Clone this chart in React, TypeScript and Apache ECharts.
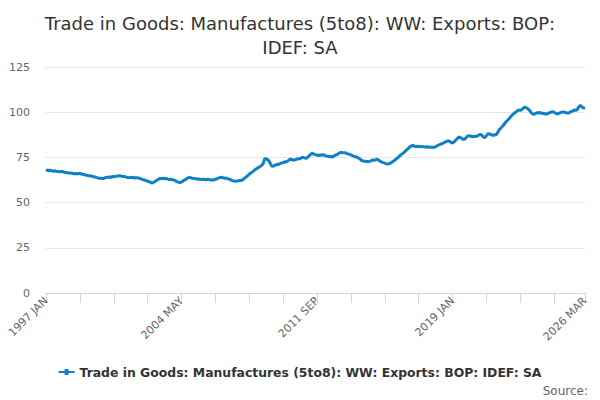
import { useEffect, useRef } from "react"
import * as echarts from "echarts"

const MONTHS = ["JAN", "FEB", "MAR", "APR", "MAY", "JUN", "JUL", "AUG", "SEP", "OCT", "NOV", "DEC"]
const FIRST_YEAR = 1997
const LAST_YEAR = 2026
const LAST_MONTH = 3

const seriesName = "Trade in Goods: Manufactures (5to8): WW: Exports: BOP: IDEF: SA"
const titleText = "Trade in Goods: Manufactures (5to8): WW: Exports: BOP:\nIDEF: SA"

// monthly values, one row per year
const v1997 = [67.6, 68.0, 67.8, 67.9, 67.5, 67.4, 67.6, 67.2, 67.2, 67.0, 67.3, 67.1]
const v1998 = [66.8, 66.6, 66.5, 66.3, 66.4, 66.2, 66.0, 66.1, 65.9, 66.0, 66.2, 65.8]
const v1999 = [65.6, 65.4, 65.2, 65.0, 64.9, 64.7, 64.5, 64.3, 64.1, 63.8, 63.6, 63.4]
const v2000 = [63.5, 63.2, 63.6, 63.9, 64.0, 64.2, 64.0, 64.4, 64.3, 64.6, 64.5, 64.8]
const v2001 = [64.9, 64.6, 64.4, 64.5, 64.1, 63.9, 63.8, 64.0, 63.7, 63.9, 63.6, 63.8]
const v2002 = [63.6, 63.4, 63.0, 62.7, 62.5, 62.2, 61.9, 61.6, 61.2, 60.8, 61.3, 61.7]
const v2003 = [62.4, 62.9, 63.4, 63.2, 63.5, 63.1, 63.4, 63.0, 62.8, 63.0, 62.6, 62.5]
const v2004 = [62.1, 61.6, 61.3, 61.0, 61.4, 62.0, 62.5, 63.0, 63.6, 64.0, 63.7, 63.5]
const v2005 = [63.4, 63.2, 63.0, 63.1, 62.9, 62.7, 63.0, 62.8, 62.6, 62.9, 62.7, 62.5]
const v2006 = [62.6, 62.5, 62.9, 63.2, 63.6, 63.8, 64.0, 63.7, 63.5, 63.6, 63.2, 63.0]
const v2007 = [62.6, 62.2, 61.9, 61.8, 62.0, 62.1, 62.3, 62.2, 62.8, 63.5, 64.2, 64.9]
const v2008 = [65.8, 66.4, 67.0, 67.7, 68.4, 68.9, 69.5, 70.0, 70.6, 71.5, 74.3, 74.2]
const v2009 = [73.7, 72.8, 71.0, 70.0, 70.3, 70.8, 71.2, 71.0, 71.6, 71.9, 72.1, 72.6]
const v2010 = [72.5, 73.0, 73.8, 74.0, 73.6, 73.5, 73.7, 74.0, 74.3, 74.2, 74.9, 75.0]
const v2011 = [74.7, 74.5, 75.2, 76.0, 76.9, 77.2, 76.8, 76.5, 76.3, 76.0, 76.4, 76.2]
const v2012 = [76.5, 76.1, 75.8, 75.6, 75.4, 75.5, 75.2, 75.8, 76.3, 76.5, 77.2, 77.6]
const v2013 = [77.8, 77.5, 77.6, 77.3, 76.9, 76.8, 76.4, 76.0, 75.6, 75.4, 75.1, 74.6]
const v2014 = [74.0, 73.3, 73.0, 72.8, 72.9, 72.6, 72.8, 73.1, 73.6, 73.4, 73.7, 73.9]
const v2015 = [73.5, 72.9, 72.4, 72.1, 71.8, 71.5, 71.3, 71.6, 72.0, 72.6, 73.2, 73.8]
const v2016 = [74.6, 75.3, 76.1, 76.8, 77.4, 78.2, 79.0, 79.8, 80.7, 81.2, 81.6, 81.3]
const v2017 = [81.0, 81.2, 80.9, 81.1, 80.8, 81.0, 80.7, 80.9, 80.6, 80.8, 80.5, 80.7]
const v2018 = [80.5, 80.9, 81.4, 81.9, 82.2, 82.6, 82.9, 83.4, 83.8, 84.2, 83.9, 83.3]
const v2019 = [82.9, 83.6, 84.5, 85.3, 86.3, 86.0, 85.5, 84.8, 85.2, 86.1, 86.9, 87.0]
const v2020 = [86.7, 86.4, 86.8, 86.5, 86.9, 87.3, 87.8, 87.2, 86.3, 85.9, 87.0, 88.1]
const v2021 = [88.0, 87.6, 87.2, 87.5, 87.4, 88.3, 89.9, 91.0, 91.8, 92.8, 93.9, 95.0]
const v2022 = [95.8, 96.7, 97.8, 98.6, 99.4, 100.0, 100.8, 101.2, 101.0, 101.5, 102.3, 102.9]
const v2023 = [102.4, 101.8, 101.0, 99.8, 99.0, 98.9, 99.3, 99.8, 99.5, 99.9, 99.2, 99.4]
const v2024 = [99.1, 98.9, 99.4, 99.7, 100.0, 100.3, 99.8, 99.5, 99.0, 99.3, 99.7, 100.0]
const v2025 = [100.2, 99.9, 99.6, 99.5, 99.8, 100.4, 100.6, 101.2, 101.0, 101.5, 103.0, 103.8]
const v2026 = [102.9, 102.4, 102.1]

const values = [
  ...v1997, ...v1998, ...v1999, ...v2000, ...v2001, ...v2002, ...v2003, ...v2004,
  ...v2005, ...v2006, ...v2007, ...v2008, ...v2009, ...v2010, ...v2011, ...v2012,
  ...v2013, ...v2014, ...v2015, ...v2016, ...v2017, ...v2018, ...v2019, ...v2020,
  ...v2021, ...v2022, ...v2023, ...v2024, ...v2025, ...v2026
]

const categories: string[] = []
for (let y = FIRST_YEAR; y <= LAST_YEAR; y++) {
  const lastM = y === LAST_YEAR ? LAST_MONTH : 12
  for (let m = 0; m < lastM; m++) categories.push(`${y} ${MONTHS[m]}`)
}

const LABEL_STEP = 88
const TICK_STEP = 22

export default function App() {
  const chartRef = useRef<HTMLDivElement>(null)

  useEffect(() => {
    if (!chartRef.current) return
    const chart = echarts.init(chartRef.current, null, { renderer: "svg" })
    const last = categories.length - 1
    const font = "DejaVu Sans, sans-serif"

    chart.setOption({
      animation: false,
      textStyle: { fontFamily: font },
      title: {
        text: titleText,
        left: "center",
        top: 6,
        textStyle: {
          fontFamily: font,
          fontSize: 18,
          fontWeight: "normal",
          color: "#333333",
          lineHeight: 24
        }
      },
      grid: {
        top: 67,
        left: 46,
        right: 15,
        bottom: 107
      },
      legend: {
        bottom: 17,
        left: "center",
        itemWidth: 16,
        itemHeight: 6,
        itemGap: 4,
        icon: "path://M0,2 L16,2 L16,4 L0,4 Z M6,0 L10,0 L10,6 L6,6 Z",
        textStyle: {
          fontFamily: font,
          fontSize: 12.4,
          fontWeight: "bold",
          color: "#333333"
        },
        data: [seriesName]
      },
      xAxis: {
        type: "category",
        data: categories,
        boundaryGap: false,
        axisLine: { lineStyle: { color: "#ccd6eb", width: 1 } },
        axisTick: {
          length: 10,
          interval: (i: number) => i % TICK_STEP === 0 || i === last,
          lineStyle: { color: "#ccd6eb" }
        },
        axisLabel: {
          rotate: 45,
          fontSize: 11,
          color: "#666666",
          margin: 6,
          interval: (i: number) => i % LABEL_STEP === 0 || i === last,
          showMaxLabel: true
        },
        splitLine: { show: false }
      },
      yAxis: {
        type: "value",
        min: 0,
        max: 125,
        interval: 25,
        axisLine: { show: false },
        axisTick: { show: false },
        axisLabel: { fontSize: 11, color: "#666666", margin: 16 },
        splitLine: { lineStyle: { color: "#e6e6e6", width: 1 } }
      },
      graphic: [
        {
          type: "text",
          right: 12,
          bottom: 3,
          style: {
            text: "Source:",
            fontFamily: font,
            fontSize: 12,
            fill: "#666666"
          }
        }
      ],
      series: [
        {
          name: seriesName,
          type: "line",
          data: values,
          showSymbol: false,
          symbol: "circle",
          color: "#0f7fc6",
          lineStyle: { width: 3, color: "#0f7fc6" }
        }
      ]
    })

    return () => {
      chart.dispose()
    }
  }, [])

  return (
    <div
      ref={chartRef}
      style={{ position: "absolute", left: 0, top: 0, width: "600px", height: "400px" }}
    />
  )
}
